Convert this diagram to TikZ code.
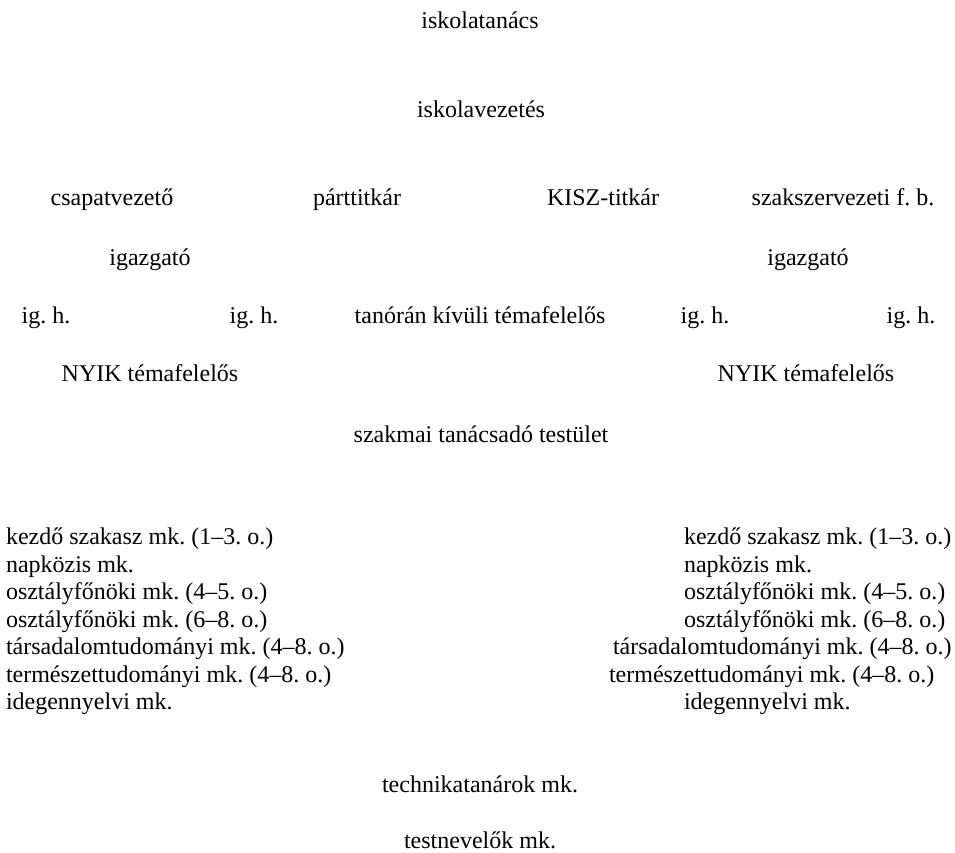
\documentclass[tikz,border=0pt]{standalone}
\usepackage{fontspec}
\setmainfont{Liberation Serif}
\usepackage{tikz}
\frenchspacing
\tikzstyle{every node}=[inner sep=0pt,outer sep=0pt]
\tikzstyle{lbl}=[anchor=base,font=\fontsize{24}{28}\selectfont]
\tikzstyle{lst}=[anchor=base west,font=\fontsize{24}{28}\selectfont]

\begin{document}
\begin{tikzpicture}[x=1pt,y=-1pt]
\useasboundingbox (0,0) rectangle (955,852);
\node[lbl] (tanacs) at (480,28) {iskolatanács};
\node[lbl] (vezetes) at (481,117) {iskolavezetés};
\node[lbl] (csapat) at (112,205) {csapatvezető};
\node[lbl] (part) at (357,205) {párttitkár};
\node[lbl] (kisz) at (603,205) {KISZ-titkár};
\node[lbl] (szak) at (843,205) {szakszervezeti f. b.};
\node[lbl] (igl) at (150,265) {igazgató};
\node[lbl] (igr) at (808,265) {igazgató};
\node[lbl] (ha) at (46,323) {ig. h.};
\node[lbl] (hb) at (254,323) {ig. h.};
\node[lbl] (tanoran) at (480,323) {tanórán kívüli témafelelős};
\node[lbl] (hc) at (705,323) {ig. h.};
\node[lbl] (hd) at (911,323) {ig. h.};
\node[lbl] (nyikl) at (150,381) {NYIK témafelelős};
\node[lbl] (nyikr) at (806,381) {NYIK témafelelős};
\node[lbl] (testulet) at (481,442) {szakmai tanácsadó testület};
% munkakozossegek, bal oldal
\node[lst] (la) at (6,544) {kezdő szakasz mk. (1–3. o.)};
\node[lst] (lb) at (6,572) {napközis mk.};
\node[lst] (lc) at (6,599) {osztályfőnöki mk. (4–5. o.)};
\node[lst] (ld) at (6,627) {osztályfőnöki mk. (6–8. o.)};
\node[lst] (le) at (6,654) {társadalomtudományi mk. (4–8. o.)};
\node[lst] (lf) at (6,682) {természettudományi mk. (4–8. o.)};
\node[lst] (lg) at (6,709) {idegennyelvi mk.};
% munkakozossegek, jobb oldal
\node[lst] (ra) at (684,544) {kezdő szakasz mk. (1–3. o.)};
\node[lst] (rb) at (684,572) {napközis mk.};
\node[lst] (rc) at (684,599) {osztályfőnöki mk. (4–5. o.)};
\node[lst] (rd) at (684,627) {osztályfőnöki mk. (6–8. o.)};
\node[lst] (re) at (613,654) {társadalomtudományi mk. (4–8. o.)};
\node[lst] (rf) at (609,682) {természettudományi mk. (4–8. o.)};
\node[lst] (rg) at (684,709) {idegennyelvi mk.};
\node[lbl] (techn) at (480,792) {technikatanárok mk.};
\node[lbl] (testnev) at (480,848) {testnevelők mk.};
\end{tikzpicture}
\end{document}
